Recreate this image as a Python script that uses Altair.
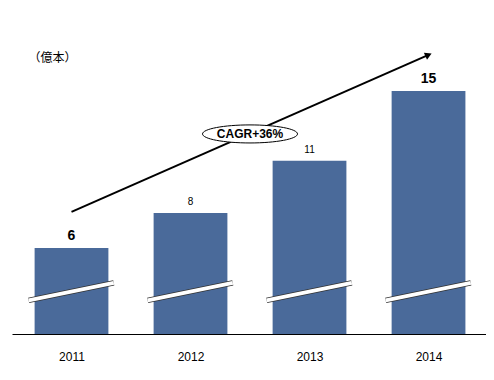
import altair as alt
import pandas as pd

years = [2011, 2012, 2013, 2014]
values = [6, 8, 11, 15]
unit_label = "（億本）"
cagr_label = "CAGR+36%"

df = pd.DataFrame({"year": years, "value": values})

Y_MIN, Y_MAX = 1.07, 19.76
xs = alt.Scale(domain=[2010.5, 2014.483], nice=False, zero=False)
ys = alt.Scale(domain=[Y_MIN, Y_MAX], nice=False, zero=False)
FONT = "Liberation Sans"
BAR = "#4a6a9a"

xaxis = alt.Axis(
    values=years, format="d", ticks=False, grid=False, title=None,
    domainColor="#000000", domainWidth=1.2, labelFontSize=12, labelColor="#000000",
    labelFont=FONT, labelPadding=17, labelFlush=False)
yaxis = alt.Axis(
    domain=False, ticks=False, labels=False, grid=False, title=unit_label,
    titleAngle=0, titleX=40, titleY=49, titleAlign="center", titleBaseline="middle",
    titleFont="Noto Sans CJK JP", titleFontSize=12, titleFontWeight="normal",
    titleColor="#000000")


def X(f):
    return alt.X(f, scale=xs, axis=xaxis)


def Y(f):
    return alt.Y(f, scale=ys, axis=yaxis)


base = alt.Chart(df)

bars = base.mark_bar(color=BAR).transform_calculate(
    x1="datum.year - 0.31", x2="datum.year + 0.31", base=str(Y_MIN)
).encode(x=X("x1:Q"), x2="x2:Q", y=Y("value:Q"), y2="base:Q")

# axis-break marks
brk = base.transform_calculate(
    bx1="datum.year - 0.36", bx2="datum.year + 0.355", by1="3.0", by2="4.0"
)
brk_dark = brk.mark_rule(color="#333333", strokeWidth=5.5, strokeCap="butt").encode(
    x=X("bx1:Q"), x2="bx2:Q", y=Y("by1:Q"), y2="by2:Q")
brk_white = brk.mark_rule(color="#ffffff", strokeWidth=4, strokeCap="butt").encode(
    x=X("bx1:Q"), x2="bx2:Q", y=Y("by1:Q"), y2="by2:Q")

big = base.transform_filter("datum.year == 2011 || datum.year == 2014").mark_text(
    font=FONT, fontSize=14, fontWeight="bold", baseline="bottom", dy=-5, color="#000000"
).encode(x=X("year:Q"), y=Y("value:Q"), text="value:Q")
small = base.transform_filter("datum.year == 2012 || datum.year == 2013").mark_text(
    font=FONT, fontSize=10, baseline="bottom", dy=-6, color="#000000"
).encode(x=X("year:Q"), y=Y("value:Q"), text="value:Q")

arrow_df = pd.DataFrame({"x": [2011.0], "y": [8.07], "x2": [2014.0], "y2": [17.07]})
arrow_line = alt.Chart(arrow_df).mark_rule(color="#000000", strokeWidth=2).encode(
    x=X("x:Q"), x2="x2:Q", y=Y("y:Q"), y2="y2:Q")
arrow_head = alt.Chart(arrow_df).mark_point(
    shape="triangle-right", filled=True, color="#000000", size=60, angle=336.3, opacity=1
).encode(x=X("x2:Q"), y=Y("y2:Q"))

lab_df = pd.DataFrame({"x": [2012.5], "y": [12.54], "t": [cagr_label]})
ellipse = alt.Chart(lab_df).mark_point(
    shape="M -1 0 A 1 0.19 0 1 0 1 0 A 1 0.19 0 1 0 -1 0 Z",
    filled=True, fill="#ffffff", stroke="#000000", strokeWidth=1, size=9025, opacity=1
).encode(x=X("x:Q"), y=Y("y:Q"))
cagr = alt.Chart(lab_df).mark_text(
    font=FONT, fontSize=12, fontWeight="bold", color="#000000", baseline="middle"
).encode(x=X("x:Q"), y=Y("y:Q"), text="t:N")

chart = alt.layer(bars, brk_dark, brk_white, big, small, arrow_line, arrow_head, ellipse, cagr).properties(
    width=474, height=326,
    background="#ffffff",
    autosize=alt.AutoSizeParams(type="none"),
    padding={"left": 4, "top": 0, "right": 0, "bottom": 30},
).configure_view(strokeWidth=0)

chart.save("out.html", embed_options={"renderer": "svg", "actions": False})
